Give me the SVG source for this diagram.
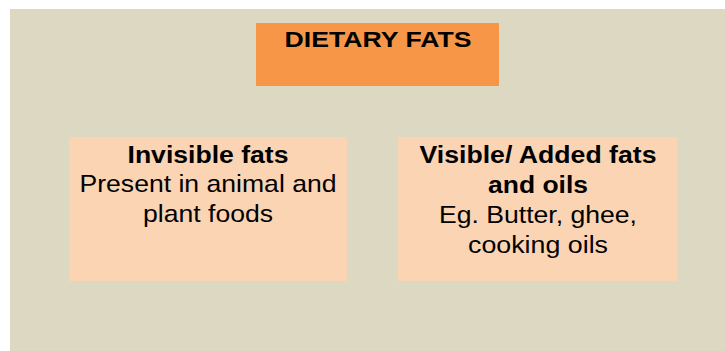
<svg xmlns="http://www.w3.org/2000/svg" width="725" height="351" viewBox="0 0 725 351">
<style>
.t{font-family:"Liberation Sans",Arial,sans-serif;fill:#000;text-anchor:middle}
.b{font-weight:bold}
.box{fill:#FBD4B4}
</style>
<rect x="0" y="0" width="725" height="351" fill="#FFFFFF"/>
<rect x="10" y="9" width="715" height="342" fill="#DDD8C2"/>
<g id="connectors"></g>
<g id="node-dietary-fats">
<rect x="256" y="23" width="243" height="63" fill="#F79646"/>
<text class="t b" x="378" y="47.3" font-size="22.7" textLength="187" lengthAdjust="spacingAndGlyphs">DIETARY FATS</text>
</g>
<g id="node-invisible">
<rect class="box" x="69" y="137" width="278" height="144"/>
<text class="t b" x="208" y="162.5" font-size="24.2" textLength="161" lengthAdjust="spacingAndGlyphs">Invisible fats</text>
<text class="t" x="208" y="192" font-size="24.2" textLength="257" lengthAdjust="spacingAndGlyphs">Present in animal and</text>
<text class="t" x="208" y="221.5" font-size="24.2" textLength="130" lengthAdjust="spacingAndGlyphs">plant foods</text>
</g>
<g id="node-visible">
<rect class="box" x="398" y="137" width="279" height="144"/>
<text class="t b" x="538" y="162.5" font-size="24.2" textLength="237" lengthAdjust="spacingAndGlyphs">Visible/ Added fats</text>
<text class="t b" x="538" y="192.5" font-size="24.2" textLength="100" lengthAdjust="spacingAndGlyphs">and oils</text>
<text class="t" x="538" y="223" font-size="24.2" textLength="198" lengthAdjust="spacingAndGlyphs">Eg. Butter, ghee,</text>
<text class="t" x="538" y="253" font-size="24.2" textLength="140" lengthAdjust="spacingAndGlyphs">cooking oils</text>
</g>
</svg>
